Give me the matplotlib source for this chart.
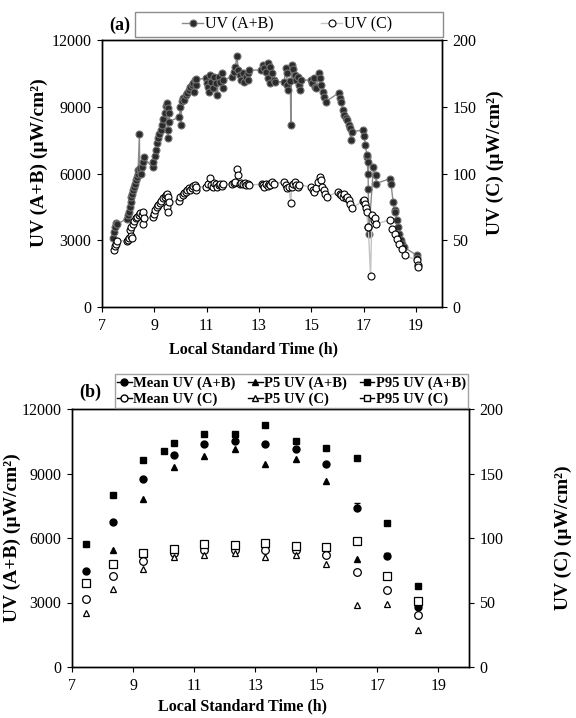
import numpy as np
import matplotlib.pyplot as plt
from matplotlib.lines import Line2D
from matplotlib.patches import Rectangle

plt.rcParams.update({'font.family': ['Liberation Serif', 'DejaVu Serif'],
                     'font.size': 11,
                     'axes.linewidth': 1.0,
                     'xtick.major.size': 3.6, 'ytick.major.size': 3.6,
                     'xtick.major.pad': 4, 'ytick.major.pad': 4})

# ---- panel (a): one day of measurements ----
ab_time = [7.42, 7.44, 7.48, 7.53, 7.58,
           7.95, 8.01, 8.04, 8.06, 8.10, 8.12, 8.15, 8.18, 8.21, 8.25, 8.29, 8.33, 8.36, 8.38,
           8.43, 8.44, 8.46, 8.50, 8.52, 8.56, 8.59,
           8.94, 8.96, 9.01, 9.05, 9.09, 9.13, 9.18, 9.24, 9.28, 9.33, 9.39, 9.45, 9.50,
           9.51, 9.53, 9.54, 9.56, 9.57,
           9.96, 10.00, 10.02, 10.05, 10.11, 10.15, 10.20, 10.25, 10.31, 10.37, 10.43,
           10.48, 10.50, 10.54, 10.58, 10.60,
           10.97, 11.00, 11.04, 11.08, 11.12, 11.18, 11.23, 11.29, 11.35, 11.41, 11.46,
           11.52, 11.58, 11.61, 11.64,
           11.98, 12.04, 12.10, 12.16, 12.21, 12.27, 12.33, 12.39, 12.44, 12.52, 12.58,
           12.60, 12.63,
           13.09, 13.15, 13.21, 13.27, 13.33, 13.36, 13.41, 13.44, 13.50, 13.56, 13.62,
           13.97, 14.02, 14.06, 14.08, 14.11, 14.20, 14.22, 14.25, 14.31, 14.37, 14.43,
           14.49, 14.52, 14.57, 14.60,
           14.98, 15.02, 15.09, 15.13, 15.20, 15.28, 15.34, 15.38, 15.44, 15.48, 15.55,
           16.06, 16.09, 16.15, 16.20, 16.26, 16.32, 16.38, 16.43, 16.47, 16.51, 16.55,
           16.97, 17.02, 17.07, 17.14, 17.15, 17.16, 17.17, 17.18, 17.20,
           17.38, 17.46, 17.49,
           18.02, 18.05, 18.13, 18.19, 18.22, 18.27, 18.31, 18.36, 18.42, 18.47, 18.53,
           19.03, 19.06]
ab_uv = [3120, 3375, 3600, 3780, 3720,
         3975, 4125, 4275, 4500, 4725, 4950, 5100, 5250, 5400, 5550, 5700, 5850, 6000, 6150,
         7770, 6150, 6225, 6000, 6300, 6525, 6720,
         6270, 6525, 6780, 7050, 7350, 7575, 7770, 7950, 8175, 8430, 8700, 9030, 9150,
         7575, 7950, 8925, 8700, 8325,
         8550, 9000, 8175, 9270, 9375, 9300, 9525, 9600, 9750, 9900, 9975,
         10080, 9675, 10200, 9975, 10230,
         10275, 10050, 9900, 9675, 10425, 10125, 9825, 10350, 10050, 9525, 10350,
         10125, 10500, 9825, 10200,
         10350, 10575, 10800, 11280, 10650, 10425, 10200, 10500, 10125, 10350, 10500,
         10200, 10650,
         10650, 10875, 10725, 10575, 10275, 10950, 10050, 10800, 10500, 10200, 10125,
         10125, 10725, 10500, 9975, 9750, 10150, 8200, 10875, 10680, 10425, 10200,
         10350, 9975, 9750, 10200,
         10200, 10050, 10275, 9900, 9825, 10500, 10275, 9975, 9675, 9450, 9225,
         9630, 9375, 9225, 8850, 8625, 8475, 8400, 8175, 8025, 7500, 7875,
         7950, 7680, 7275, 6750, 6825, 6000, 6525, 5325, 3300,
         6300, 5925, 5550,
         5775, 5550, 4725, 4350, 4275, 3900, 3600, 3300, 3000, 2850, 2700,
         2330, 2220]

c_time = [7.46, 7.48, 7.52, 7.58,
          7.97, 8.00, 8.03, 8.06, 8.09, 8.12, 8.15, 8.18, 8.23, 8.29, 8.35, 8.41, 8.46,
          8.52, 8.56, 8.58, 8.61,
          8.95, 8.98, 9.04, 9.10, 9.16, 9.21, 9.27, 9.33, 9.39, 9.45, 9.47, 9.50, 9.53,
          9.54, 9.56,
          9.93, 10.00, 10.08, 10.14, 10.20, 10.25, 10.31, 10.37, 10.43, 10.48, 10.54,
          10.58, 10.60,
          10.97, 11.04, 11.12, 11.18, 11.23, 11.29, 11.35, 11.41, 11.46, 11.52, 11.58, 11.64,
          11.98, 12.04, 12.10, 12.16, 12.21, 12.27, 12.33, 12.39, 12.46, 12.52, 12.58, 12.63,
          13.10, 13.15, 13.21, 13.27, 13.33, 13.38, 13.44, 13.50, 13.56,
          13.96, 14.02, 14.08, 14.14, 14.22, 14.25, 14.31, 14.37, 14.43, 14.49, 14.54,
          15.01, 15.07, 15.12, 15.18, 15.26, 15.33, 15.38, 15.41, 15.47, 15.53, 15.59,
          16.04, 16.09, 16.15, 16.20, 16.26, 16.32, 16.38, 16.43, 16.49, 16.55,
          16.97, 17.03, 17.04, 17.09, 17.13, 17.16, 17.18, 17.27, 17.32, 17.39, 17.44, 17.49,
          18.00, 18.08, 18.20, 18.28, 18.36, 18.47, 18.57,
          19.05, 19.08, 19.10]
c_uv = [42.5, 45.5, 47.5, 49.5,
        49.5, 50.5, 51.5, 57.5, 53.0, 60.0, 52.0, 62.5, 64.5, 66.3, 67.5, 68.8, 70.5,
        68.8, 62.5, 71.3, 66.3,
        67.5, 70.0, 72.5, 75.0, 76.3, 78.0, 79.5, 81.3, 82.5, 83.8, 75.0, 85.0, 71.3,
        82.5, 78.8,
        79.5, 82.5, 83.8, 85.5, 86.3, 87.5, 88.8, 88.0, 89.5, 90.5, 91.3,
        87.5, 90.0,
        90.0, 92.0, 96.3, 91.3, 90.0, 93.0, 92.0, 90.0, 91.3, 92.5, 90.5, 91.8,
        92.0, 93.0, 93.8, 103.0, 98.8, 92.5, 93.0, 92.0, 93.0, 91.5, 92.5, 91.3,
        92.0, 91.3, 90.0, 92.0, 90.5, 92.5, 91.3, 93.8, 92.0,
        93.8, 91.3, 88.8, 90.0, 78.0, 90.0, 92.0, 93.8, 91.3, 90.0, 91.3,
        90.0, 87.5, 86.3, 88.8, 93.8, 97.5, 95.0, 90.0, 87.5, 85.0, 82.5,
        86.3, 85.0, 83.8, 82.5, 85.0, 81.3, 82.5, 80.0, 77.5, 73.8,
        79.5, 80.0, 77.5, 73.8, 71.3, 60.0, 60.0, 23.0, 68.8, 65.0, 66.3, 62.5,
        65.0, 58.8, 55.0, 51.3, 47.5, 43.8, 38.8,
        35.0, 31.8, 29.7]

# ---- panel (b): hourly statistics ----
hours = [7.45, 8.33, 9.33, 10.33, 11.33, 12.33, 13.33, 14.33, 15.33, 16.33, 17.33, 18.33]
mean_ab = [4470, 6760, 8740, 9870, 10350, 10490, 10370, 10135, 9420, 7400, 5175, 2800]
mean_ab_err = [0, 0, 0, 0, 0, 0, 0, 0, 0, 220, 150, 0]
p5_ab = [np.nan, 5440, 7810, 9280, 9825, 10135, 9420, 9670, 8630, 5020, np.nan, np.nan]
p95_ab = [5740, 8010, 9640, 10430, 10820, 10830, 11270, 10520, 10180, 9700, 6710, 3770]
p95_ab_extra_hour = [10.01]
p95_ab_extra = [10060]
mean_c = [53.1, 70.5, 82.5, 88.2, 90.8, 91.0, 90.8, 90.8, 86.5, 73.5, 59.6, 40.0]
p5_c = [42.1, 60.6, 76.1, 85.1, 86.7, 88.2, 85.4, 86.7, 80.2, 47.8, 48.8, 28.9]
p95_c = [65.0, 79.8, 88.5, 91.8, 95.5, 94.4, 96.0, 93.9, 93.0, 98.0, 70.4, 51.5]

W, H = 576, 718
fig = plt.figure(figsize=(W / 100, H / 100), dpi=100)

lab_kw = dict(fontweight='bold')
xticks = [7, 9, 11, 13, 15, 17, 19]


def style(ax, axr):
    ax.set_xlim(7, 20)
    ax.set_ylim(0, 12000)
    axr.set_ylim(0, 200)
    ax.set_xticks(xticks)
    ax.set_yticks([0, 3000, 6000, 9000, 12000])
    axr.set_yticks([0, 50, 100, 150, 200])
    ax.tick_params(labelsize=11.5)
    axr.tick_params(labelsize=11.5)


# (a)
ax1 = fig.add_axes([102 / W, 1 - 307 / H, 340 / W, 267 / H])
ax1r = ax1.twinx()
l_ab, = ax1.plot(ab_time, ab_uv, '-o', color='#8a8a8a', lw=1.0, ms=5,
                 mfc='#2b2b2b', mec='#707070', mew=0.8, label='UV (A+B)')
l_c, = ax1r.plot(c_time, c_uv, '-o', color='#c4c4c4', lw=1.0, ms=5,
                 mfc='white', mec='black', mew=0.8, label='UV (C)')
style(ax1, ax1r)
ax1.set_ylabel('UV (A+B) (µW/cm²)', fontsize=14, **lab_kw)
ax1r.set_ylabel('UV (C) (µW/cm²)', fontsize=14, **lab_kw)
ax1.yaxis.set_label_coords(-0.16, 0.54)
ax1r.yaxis.set_label_coords(1.13, 0.54)
ax1.set_xlabel('Local Standard Time (h)', fontsize=11.5, **lab_kw)
ax1.xaxis.set_label_coords(0.445, -0.13)

fig.patches.append(Rectangle((135 / W, 1 - 37 / H), 308 / W, 25 / H,
                             transform=fig.transFigure, fill=False,
                             edgecolor='#8c8c8c', lw=1.0))
fig.legend(handles=[l_ab, l_c], ncol=2, frameon=False, loc='center',
           bbox_to_anchor=(287 / W, 1 - 24.5 / H), fontsize=11.5,
           handlelength=1.3, handletextpad=0.1, columnspacing=3.0,
           borderpad=0.1)
fig.text(120 / W, 1 - 25 / H, '(a)', ha='center', va='center',
         fontsize=13, fontweight='bold')

# (b)
ax2 = fig.add_axes([72 / W, 1 - 667 / H, 397 / W, 258 / H])
ax2r = ax2.twinx()
ms = 5
ax2.errorbar(hours, mean_ab, yerr=[[0] * len(hours), mean_ab_err], fmt='o',
             color='black', ms=ms, elinewidth=1, capsize=2)
ax2.plot(hours, p5_ab, '^', color='black', ms=ms)
ax2.plot(hours, p95_ab, 's', color='black', ms=ms - 0.5)
ax2.plot(p95_ab_extra_hour, p95_ab_extra, 's', color='black', ms=ms - 0.5)
ax2r.plot(hours, mean_c, 'o', mfc='white', mec='black', mew=0.9, ms=ms + 0.5)
ax2r.plot(hours, p5_c, '^', mfc='white', mec='black', mew=0.9, ms=ms - 0.5)
ax2r.plot(hours, p95_c, 's', mfc='white', mec='black', mew=0.9, ms=ms + 0.5)
style(ax2, ax2r)
ax2.set_ylabel('UV (A+B) (µW/cm²)', fontsize=14, **lab_kw)
ax2r.set_ylabel('UV (C) (µW/cm²)', fontsize=14, **lab_kw)
ax2.yaxis.set_label_coords(-0.128, 0.5)
ax2r.yaxis.set_label_coords(1.215, 0.5)
ax2.set_xlabel('Local Standard Time (h)', fontsize=11.5, **lab_kw)
ax2.xaxis.set_label_coords(0.43, -0.12)


def proxy(marker, filled):
    return Line2D([], [], color='black', lw=1, marker=marker, ms=5,
                  mfc='black' if filled else 'white', mec='black')


handles = [proxy('o', True), proxy('o', False), proxy('^', True), proxy('^', False),
           proxy('s', True), proxy('s', False)]
labels = ['Mean UV (A+B)', 'Mean UV (C)', 'P5 UV (A+B)', 'P5 UV (C)',
          'P95 UV (A+B)', 'P95 UV (C)']
leg = fig.legend(handles, labels, ncol=3, loc='lower left', mode='expand',
                 bbox_to_anchor=(115 / W, 1 - 408 / H, 353 / W, 40 / H),
                 prop={'weight': 'bold', 'size': 10.5}, fancybox=False,
                 edgecolor='#8c8c8c', handlelength=1.0, handletextpad=0.1,
                 columnspacing=0.4, borderpad=0.15, labelspacing=0.15,
                 borderaxespad=0)
leg.get_frame().set_linewidth(1.0)
fig.text(90 / W, 1 - 392 / H, '(b)', ha='center', va='center',
         fontsize=13, fontweight='bold')

plt.savefig('out.png', dpi=100)
